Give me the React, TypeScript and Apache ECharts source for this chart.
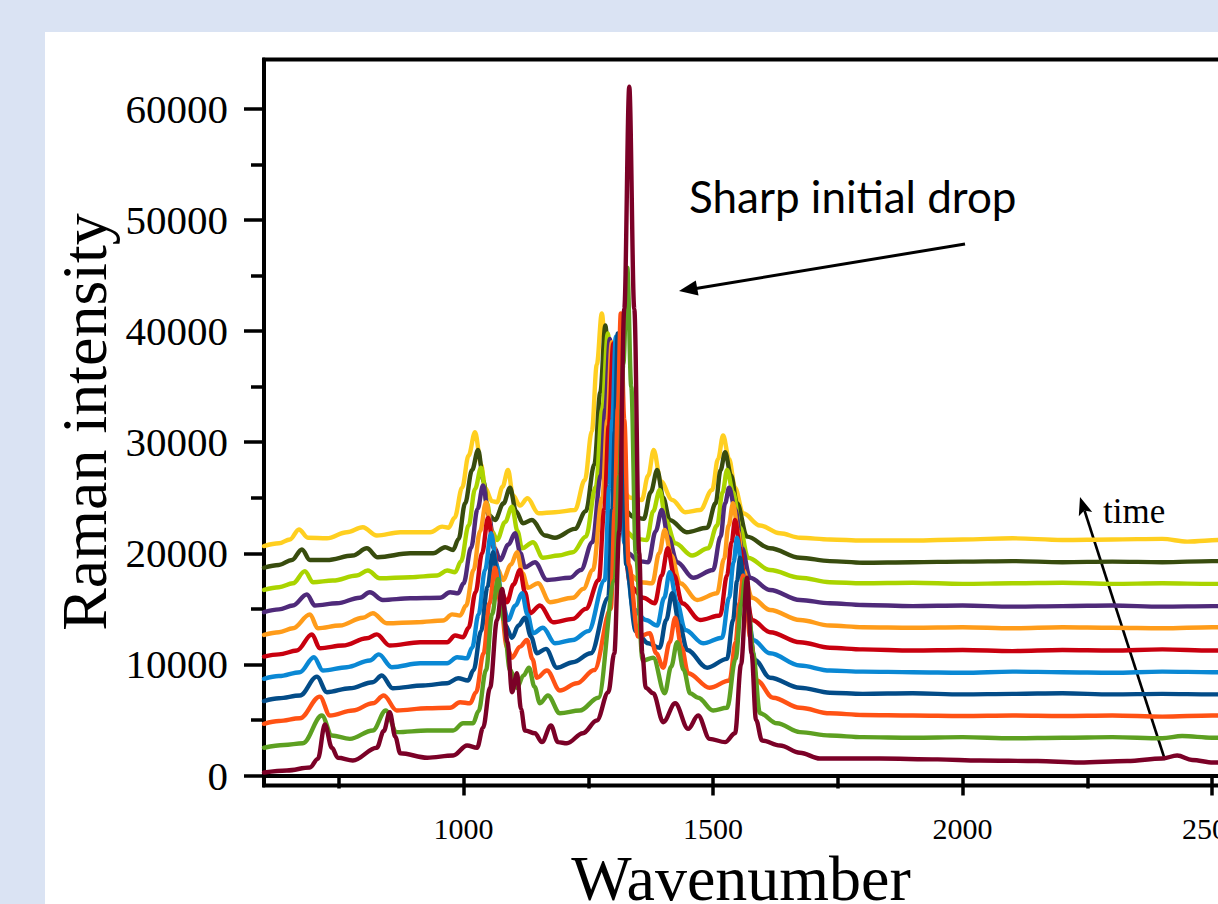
import React, { useEffect, useRef } from "react";
import * as echarts from "echarts";

// ---- data (wavenumber, Raman intensity) ----
const spec11: [number, number][] = [[600,20650],[630,20900],[652,21250],[670,22150],[688,21400],[726,21350],[766,21900],[798,22350],[826,21600],[873,21900],[933,21900],[957,22400],[970,22300],[982,23200],[997,25900],[1010,28800],[1023,30900],[1035,28000],[1043,25900],[1057,24700],[1067,24600],[1078,26000],[1089,27500],[1099,25200],[1113,24300],[1128,24950],[1150,23600],[1183,23700],[1223,23900],[1243,26600],[1257,31000],[1267,37000],[1277,41600],[1287,36000],[1297,29500],[1312,26000],[1335,25000],[1357,24800],[1370,27000],[1381,29300],[1395,26500],[1418,24800],[1444,23700],[1474,23900],[1498,25700],[1510,28500],[1520,30600],[1532,28500],[1544,25900],[1560,23600],[1594,22500],[1634,21800],[1674,21400],[1734,21250],[1800,21150],[1900,21150],[2000,21250],[2100,21350],[2200,21200],[2300,21250],[2400,21300],[2450,21050],[2520,21200],[2620,21200]];
const spec10: [number, number][] = [[600,18700],[630,18950],[656,19400],[676,20350],[692,19400],[726,19400],[778,19800],[806,20450],[828,19650],[893,20000],[939,20000],[963,20550],[979,20300],[990,21300],[1003,24500],[1017,27500],[1029,29300],[1040,26500],[1049,23500],[1063,23000],[1080,24500],[1093,25900],[1105,23800],[1119,22700],[1137,23000],[1163,21600],[1183,21400],[1223,22200],[1245,23800],[1262,28000],[1274,34500],[1284,40500],[1294,34000],[1304,27500],[1320,24000],[1340,23300],[1361,23100],[1375,25500],[1388,27500],[1400,25000],[1413,23000],[1447,21900],[1488,22300],[1505,24500],[1515,27500],[1524,29100],[1536,27000],[1548,24500],[1568,21500],[1614,20450],[1674,19600],[1734,19300],[1800,19150],[1900,19200],[2000,19250],[2100,19300],[2200,19200],[2300,19250],[2400,19200],[2500,19300],[2620,19250]];
const spec09: [number, number][] = [[600,16700],[630,16950],[658,17300],[682,18400],[698,17400],[738,17550],[786,18000],[808,18450],[832,17750],[893,17850],[947,18000],[967,18450],[983,18300],[995,19300],[1010,22500],[1023,25800],[1035,27700],[1047,24500],[1057,22000],[1067,21200],[1083,22800],[1097,24200],[1108,22000],[1117,20450],[1139,21000],[1159,19600],[1190,19800],[1219,20100],[1245,21500],[1265,26000],[1278,33000],[1289,39800],[1299,33000],[1309,25500],[1325,22000],[1345,21300],[1367,21200],[1380,23800],[1393,25700],[1405,23000],[1424,20900],[1458,19800],[1490,20450],[1508,22500],[1519,25500],[1528,27500],[1540,25500],[1554,22300],[1570,19600],[1614,18500],[1674,17800],[1734,17400],[1800,17300],[1900,17350],[2000,17250],[2100,17300],[2200,17350],[2300,17250],[2400,17300],[2500,17250],[2620,17300]];
const spec08: [number, number][] = [[600,14700],[630,14950],[658,15300],[686,16300],[702,15300],[746,15500],[792,16000],[812,16500],[838,15800],[893,15950],[953,16000],[973,16500],[989,16400],[1000,17300],[1015,20500],[1028,24000],[1039,26100],[1050,23500],[1062,20500],[1073,19400],[1090,20800],[1103,21800],[1114,20000],[1123,18750],[1143,19200],[1167,17600],[1213,17800],[1235,18500],[1258,21000],[1275,27000],[1284,33000],[1293,39300],[1302,33000],[1312,24500],[1330,20000],[1350,19300],[1370,19200],[1385,22000],[1397,23900],[1410,21500],[1428,19200],[1460,17800],[1500,18500],[1515,21500],[1524,24500],[1532,25900],[1544,24000],[1558,20450],[1574,17800],[1614,16700],[1674,15800],[1734,15500],[1800,15350],[1900,15250],[2000,15300],[2100,15200],[2200,15250],[2300,15300],[2400,15200],[2500,15250],[2620,15200]];
const spec07: [number, number][] = [[600,12650],[630,12900],[658,13250],[692,14500],[708,13250],[752,13500],[798,14200],[818,14600],[846,13700],[907,13800],[959,13950],[977,14500],[993,14400],[1005,15300],[1020,18500],[1033,22000],[1045,24600],[1056,22000],[1068,18600],[1079,17600],[1095,19000],[1107,20100],[1118,18200],[1129,16900],[1149,17300],[1173,15600],[1219,16000],[1240,16800],[1259,18500],[1278,25000],[1288,32000],[1297,39000],[1306,32000],[1316,23000],[1335,18000],[1355,17400],[1378,17300],[1392,20000],[1403,22100],[1416,19800],[1434,17300],[1468,15800],[1508,16400],[1522,19500],[1531,22500],[1540,24500],[1550,22000],[1560,18500],[1578,16000],[1614,14900],[1674,14000],[1734,13500],[1800,13350],[1900,13300],[2000,13350],[2100,13250],[2200,13350],[2300,13300],[2400,13250],[2500,13350],[2620,13300]];
const spec06: [number, number][] = [[600,10700],[630,10900],[666,11250],[696,12700],[712,11450],[758,11700],[806,12350],[826,12700],[852,11700],[913,12000],[967,12000],[983,12600],[999,12450],[1010,13300],[1024,16500],[1037,20000],[1049,23200],[1060,20500],[1073,16800],[1087,15600],[1100,17200],[1113,18500],[1123,16500],[1133,14600],[1153,15300],[1179,13800],[1219,14100],[1245,15000],[1271,17600],[1282,24000],[1291,31500],[1300,38900],[1309,31000],[1318,22000],[1335,17000],[1360,16000],[1383,15500],[1397,18000],[1409,20450],[1422,18000],[1438,15500],[1474,14000],[1514,14400],[1528,18000],[1537,21000],[1544,23000],[1554,20500],[1564,16900],[1578,14000],[1614,12900],[1674,12000],[1734,11500],[1800,11350],[1900,11250],[2000,11300],[2100,11200],[2200,11300],[2300,11250],[2400,11350],[2500,11250],[2620,11250]];
const spec05: [number, number][] = [[600,8700],[630,8950],[672,9300],[700,10650],[718,9450],[766,9750],[812,10350],[830,10900],[856,9750],[913,10100],[967,10100],[987,10650],[1007,10550],[1017,11500],[1030,14500],[1043,18500],[1055,21800],[1066,19000],[1078,15500],[1089,14000],[1104,15300],[1117,16400],[1128,14500],[1139,12800],[1159,13300],[1183,11900],[1219,12200],[1250,13000],[1283,17600],[1292,26000],[1298,32000],[1305,39500],[1313,31000],[1322,21000],[1340,15000],[1365,14000],[1388,13500],[1402,16000],[1413,18300],[1428,15500],[1444,13100],[1480,11900],[1518,12400],[1532,16000],[1541,19200],[1548,21400],[1558,18500],[1568,15100],[1580,12200],[1614,11000],[1674,9900],[1734,9450],[1800,9350],[1900,9300],[2000,9250],[2100,9350],[2200,9300],[2300,9250],[2400,9350],[2500,9300],[2620,9300]];
const spec04: [number, number][] = [[600,6700],[630,6950],[672,7200],[706,8900],[726,7500],[772,7850],[818,8400],[836,9000],[858,7850],[919,8100],[967,8300],[989,8750],[1009,8550],[1020,9500],[1035,13000],[1048,17000],[1059,20100],[1070,17000],[1084,13500],[1097,12400],[1110,13500],[1123,14200],[1135,12500],[1147,11000],[1165,11400],[1187,9700],[1219,10200],[1255,11000],[1290,16000],[1298,24000],[1303,31000],[1309,39800],[1317,31000],[1326,19000],[1345,13000],[1370,11900],[1393,11500],[1406,14000],[1418,16400],[1433,13500],[1448,11300],[1488,9700],[1528,10500],[1540,14000],[1548,17500],[1554,19600],[1562,17000],[1570,14000],[1584,10400],[1614,8800],[1674,7900],[1734,7450],[1800,7350],[1900,7400],[2000,7300],[2100,7350],[2200,7400],[2300,7300],[2400,7350],[2500,7300],[2620,7350]];
const spec03: [number, number][] = [[600,4650],[630,4900],[672,5150],[712,7100],[732,5400],[778,5850],[818,6500],[840,7200],[866,5850],[927,6050],[973,6100],[993,6600],[1013,6500],[1025,7500],[1040,11000],[1052,15500],[1063,18700],[1074,15500],[1087,11500],[1097,10600],[1113,11600],[1127,12200],[1138,10500],[1147,8800],[1167,9450],[1193,7650],[1227,8300],[1262,9500],[1295,15000],[1303,24000],[1309,33000],[1315,41600],[1322,32000],[1331,19000],[1350,12500],[1373,12800],[1386,11000],[1400,9700],[1413,12000],[1424,14200],[1437,11500],[1450,9200],[1493,7900],[1533,8550],[1545,12000],[1553,15500],[1560,18000],[1567,15500],[1574,12400],[1588,8550],[1620,7000],[1674,6100],[1734,5600],[1800,5450],[1900,5400],[2000,5350],[2100,5400],[2200,5350],[2300,5400],[2400,5300],[2500,5400],[2620,5350]];
const spec02: [number, number][] = [[600,2500],[640,2750],[678,2900],[716,5400],[736,3600],[772,3300],[818,4050],[844,5850],[866,3900],[927,4050],[979,4050],[999,4700],[1019,4700],[1030,5800],[1045,9500],[1057,14500],[1069,17700],[1080,14000],[1093,9500],[1107,7900],[1120,9000],[1131,9700],[1142,8000],[1153,6500],[1169,7200],[1193,5600],[1233,5850],[1270,7000],[1303,17600],[1312,27000],[1320,37000],[1328,45700],[1336,35000],[1345,20000],[1359,10350],[1380,10600],[1403,7400],[1416,9800],[1428,12000],[1441,9500],[1454,7400],[1470,7000],[1500,5850],[1528,6100],[1545,10500],[1557,15500],[1564,17700],[1572,14500],[1580,11000],[1594,5600],[1628,4700],[1674,3900],[1734,3600],[1800,3450],[1900,3400],[2000,3450],[2100,3350],[2200,3400],[2300,3450],[2400,3350],[2440,3550],[2500,3400],[2620,3400]];
const spec01: [number, number][] = [[600,270],[646,450],[692,720],[708,1500],[722,4600],[736,2500],[748,1600],[778,1350],[826,2500],[840,4000],[852,5700],[863,3500],[873,2000],[927,1600],[979,1800],[1007,2700],[1027,2500],[1039,4300],[1053,7900],[1067,14000],[1077,16800],[1088,12000],[1097,7500],[1107,9200],[1115,6000],[1123,4050],[1143,3800],[1157,3000],[1175,4500],[1189,3000],[1207,2900],[1239,3800],[1267,4950],[1290,7500],[1302,11000],[1312,22000],[1322,42000],[1332,62000],[1342,42000],[1352,20000],[1358,11000],[1365,7900],[1380,7400],[1400,4800],[1424,6500],[1450,4200],[1470,5400],[1493,3300],[1524,3000],[1544,3800],[1556,10000],[1568,17800],[1577,11000],[1586,5000],[1598,3150],[1634,2700],[1674,2050],[1714,1530],[1834,1530],[1950,1450],[2034,1350],[2150,1300],[2234,1170],[2330,1300],[2400,1530],[2430,1800],[2460,1400],[2502,1170],[2620,1250]];

// drawn from the top trace (latest) to the bottom trace (earliest, on top)
const spectra = [spec11, spec10, spec09, spec08, spec07, spec06, spec05, spec04, spec03, spec02, spec01];
const traceNames = ["t11", "t10", "t9", "t8", "t7", "t6", "t5", "t4", "t3", "t2", "t1"];
const traceColors = ["#ffcf20", "#384c0e", "#aad400", "#4f2a7a", "#ff9c1a", "#c8000f", "#0a88d4", "#034c88", "#ff5214", "#5da021", "#7b0127"];

const yMajorTicks = [0, 10000, 20000, 30000, 40000, 50000, 60000];
const yMinorTicks = [5000, 15000, 25000, 35000, 45000, 55000];
const xMajorTicks = [1000, 1500, 2000, 2500];
const xMinorTicks = [750, 1250, 1750, 2250];

const SERIF = '"Liberation Serif", "Times New Roman", serif';
const plain = (v: number) => String(v);

export default function App() {
  const ref = useRef<HTMLDivElement>(null);
  useEffect(() => {
    if (!ref.current) return;
    const chart = echarts.init(ref.current, null, { renderer: "svg" });
    const axisCommonX = { type: "value", min: 600, max: 2620, gridIndex: 0, position: "bottom", splitLine: { show: false } };
    const axisCommonY = { type: "value", min: -900, max: 64450, gridIndex: 0, position: "left", splitLine: { show: false } };
    chart.setOption({
      animation: false,
      backgroundColor: "transparent",
      grid: { left: 264, top: 59.5, width: 1008, height: 726, show: true, borderColor: "#000", borderWidth: 4, backgroundColor: "transparent" },
      xAxis: [
        {
          ...axisCommonX,
          axisLine: { show: true, lineStyle: { color: "#000", width: 4 } },
          axisTick: { show: true, customValues: xMajorTicks, length: 20, lineStyle: { color: "#000", width: 3.5 } },
          axisLabel: { show: true, customValues: xMajorTicks, formatter: plain, margin: 28, color: "#000", fontSize: 30, fontFamily: SERIF },
        },
        {
          ...axisCommonX,
          axisLine: { show: false },
          axisTick: { show: true, customValues: xMinorTicks, length: 13, lineStyle: { color: "#000", width: 3.5 } },
          axisLabel: { show: false },
        },
      ],
      yAxis: [
        {
          ...axisCommonY,
          axisLine: { show: true, lineStyle: { color: "#000", width: 4 } },
          axisTick: { show: true, customValues: yMajorTicks, length: 20, lineStyle: { color: "#000", width: 3.5 } },
          axisLabel: { show: true, customValues: yMajorTicks, formatter: plain, margin: 36, color: "#000", fontSize: 41, fontFamily: SERIF },
        },
        {
          ...axisCommonY,
          axisLine: { show: false },
          axisTick: { show: true, customValues: yMinorTicks, length: 13, lineStyle: { color: "#000", width: 3.5 } },
          axisLabel: { show: false },
        },
      ],
      series: spectra.map((d, i) => ({
        name: traceNames[i],
        type: "line",
        data: d,
        xAxisIndex: 0,
        yAxisIndex: 0,
        showSymbol: false,
        symbol: "none",
        smooth: 0.35,
        smoothMonotone: "x",
        lineStyle: { color: traceColors[i], width: 4.4, cap: "round", join: "round" },
        clip: true,
      })),
      graphic: [
        {
          type: "text", x: 84, y: 422, rotation: Math.PI / 2,
          style: { text: "Raman intensity", fontSize: 64, fontFamily: SERIF, fill: "#000", align: "center", verticalAlign: "middle", textAlign: "center", textVerticalAlign: "middle" },
        },
        {
          type: "text", x: 741, y: 878,
          style: { text: "Wavenumber", fontSize: 64, fontFamily: SERIF, fill: "#000", align: "center", verticalAlign: "middle", textAlign: "center", textVerticalAlign: "middle" },
        },
        {
          type: "text", x: 689, y: 196,
          style: { text: "Sharp initial drop", fontSize: 44, fontFamily: "Lato, 'Open Sans', sans-serif", fill: "#000", align: "left", verticalAlign: "middle", textAlign: "left", textVerticalAlign: "middle" },
        },
        { type: "line", shape: { x1: 965, y1: 244, x2: 696, y2: 288.4 }, style: { stroke: "#000", lineWidth: 3 } },
        { type: "polygon", shape: { points: [[679, 291], [698.5, 295.5], [695.8, 280.5]] }, style: { fill: "#000" } },
        {
          type: "text", x: 1103, y: 511,
          style: { text: "time", fontSize: 35, fontFamily: SERIF, fill: "#000", align: "left", verticalAlign: "middle", textAlign: "left", textVerticalAlign: "middle" },
        },
        { type: "line", shape: { x1: 1165, y1: 760, x2: 1084.5, y2: 510.5 }, style: { stroke: "#000", lineWidth: 2.6 } },
        { type: "polygon", shape: { points: [[1080, 497], [1078.8, 516.3], [1084.3, 510.5], [1092.2, 511.9]] }, style: { fill: "#000" } },
      ],
    });
    return () => chart.dispose();
  }, []);

  return (
    <div style={{ position: "absolute", left: 0, top: 0, width: 1218, height: 904, overflow: "hidden", background: "#dae3f3" }}>
      <div style={{ position: "absolute", left: 45, top: 32, width: 1300, height: 1000, background: "#ffffff" }} />
      <div ref={ref} style={{ position: "absolute", left: 0, top: 0, width: 1300, height: 904 }} />
    </div>
  );
}
